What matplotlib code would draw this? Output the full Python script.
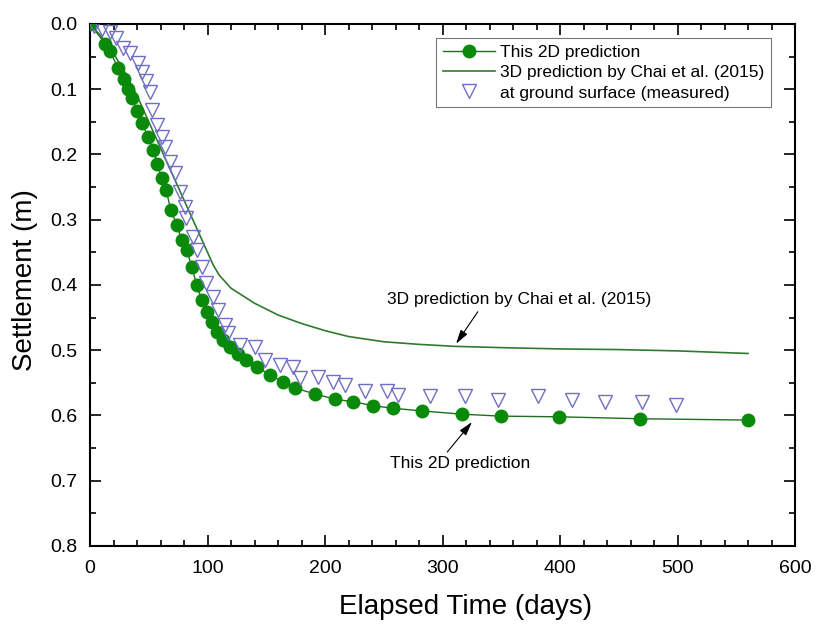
import matplotlib
matplotlib.use("Agg")
import matplotlib.pyplot as plt

plt.rcParams["font.family"] = ["Liberation Sans", "DejaVu Sans"]

# 2D prediction (days, settlement m)
t_2d = [0, 12.8, 17, 24, 29, 32.6, 35.5, 40, 44, 49.6, 53.9, 57.3, 61, 64.7,
        68.7, 73.8, 78, 82.3, 86.5, 90.8, 95, 99.3, 103.6, 107.8, 113.4, 119,
        126, 133, 142, 153, 164.5, 174.5, 191.5, 208.5, 224, 241, 258, 282.5,
        316.6, 349.8, 399, 468, 560]
s_2d = [0, 0.030, 0.042, 0.068, 0.085, 0.099, 0.114, 0.133, 0.152, 0.173,
        0.193, 0.215, 0.236, 0.254, 0.285, 0.308, 0.331, 0.346, 0.372, 0.400,
        0.423, 0.441, 0.456, 0.472, 0.484, 0.495, 0.505, 0.515, 0.525, 0.538,
        0.548, 0.558, 0.567, 0.575, 0.579, 0.585, 0.589, 0.593, 0.598, 0.601,
        0.602, 0.605, 0.607]

# 3D prediction by Chai et al. (2015)
t_3d = [0, 10, 20, 30, 40, 50, 60, 70, 80, 90, 100, 105, 110, 120, 140, 160,
        180, 200, 220, 250, 280, 310, 350, 400, 450, 500, 530, 560]
s_3d = [0, 0.02, 0.045, 0.075, 0.11, 0.15, 0.19, 0.23, 0.27, 0.31, 0.35, 0.37,
        0.385, 0.405, 0.428, 0.446, 0.459, 0.470, 0.479, 0.487, 0.491, 0.494,
        0.496, 0.498, 0.499, 0.501, 0.503, 0.505]

# settlement measured at ground surface
t_meas = [3, 10, 17, 22, 28, 34, 41, 44, 48, 51, 52.5, 56.7, 61, 64, 68, 72.3,
          76.6, 81, 82, 88, 91, 95, 99, 105, 109, 115, 117.7, 127.7, 140, 149,
          161.7, 173, 178.7, 194.3, 207, 217, 234, 252.5, 262.4, 289, 319,
          347.5, 381, 410, 438, 469.5, 499]
s_meas = [0.003, 0.008, 0.013, 0.022, 0.037, 0.045, 0.060, 0.073, 0.088,
          0.104, 0.132, 0.155, 0.173, 0.188, 0.211, 0.229, 0.257, 0.280,
          0.298, 0.326, 0.346, 0.372, 0.397, 0.418, 0.438, 0.461, 0.474,
          0.492, 0.495, 0.515, 0.523, 0.525, 0.543, 0.541, 0.548, 0.553,
          0.562, 0.563, 0.569, 0.570, 0.570, 0.576, 0.570, 0.576, 0.579,
          0.579, 0.584]

fig = plt.figure(figsize=(8.2, 6.26), dpi=100)
ax = fig.add_axes([0.1098, 0.1278, 0.8598, 0.8339])

ax.plot(t_2d, s_2d, color="#1f6e1f", lw=1.0, marker="o", ms=9,
        mfc="#0a8a0a", mec="#0a8a0a", label="This 2D prediction", zorder=3)
ax.plot(t_3d, s_3d, color="#2f7a2f", lw=1.2,
        label="3D prediction by Chai et al. (2015)", zorder=2)
ax.plot(t_meas, s_meas, ls="none", marker="v", ms=10, mfc="none",
        mec="#6f6fc4", mew=1.0, label="at ground surface (measured)", zorder=4)

# callouts
arrow = dict(arrowstyle="-|>,head_length=0.7,head_width=0.2", color="black",
             lw=0.8, shrinkA=0, shrinkB=0, mutation_scale=12)
ax.text(365, 0.423, "3D prediction by Chai et al. (2015)", ha="center",
        va="center", fontsize=12.5)
ax.annotate("", xy=(311.5, 0.49), xytext=(330, 0.441), arrowprops=arrow)
ax.text(315, 0.673, "This 2D prediction", ha="center", va="center",
        fontsize=12.5)
ax.annotate("", xy=(325, 0.61), xytext=(304, 0.656), arrowprops=arrow)

ax.set_xlim(0, 600)
ax.set_ylim(0.8, 0.0)
ax.set_xticks(range(0, 601, 100))
ax.set_xticks(range(0, 601, 20), minor=True)
ax.set_yticks([i / 10 for i in range(9)])
ax.set_yticks([i / 20 for i in range(17)], minor=True)
ax.yaxis.set_major_formatter(matplotlib.ticker.FormatStrFormatter("%.1f"))

ax.tick_params(which="both", direction="in", top=True, right=True,
               labelsize=14, width=1.2)
ax.tick_params(which="major", length=8)
ax.tick_params(which="minor", length=4)
ax.tick_params(axis="x", which="major", pad=10)
ax.tick_params(axis="y", which="major", pad=9)
for sp in ax.spines.values():
    sp.set_linewidth(1.5)

ax.set_xlabel("Elapsed Time (days)", fontsize=20)
ax.set_ylabel("Settlement (m)", fontsize=20)
ax.xaxis.set_label_coords(0.533, -0.092)
ax.yaxis.set_label_coords(-0.074, 0.51)

leg = ax.legend(loc="upper left", bbox_to_anchor=(0.491, 0.973), fontsize=12.5,
                frameon=True, fancybox=False, edgecolor="#555555",
                handlelength=3, borderpad=0.38, labelspacing=0.3,
                handletextpad=0.3, borderaxespad=0)
leg.get_frame().set_linewidth(0.8)

fig.savefig("out.png", dpi=100)
